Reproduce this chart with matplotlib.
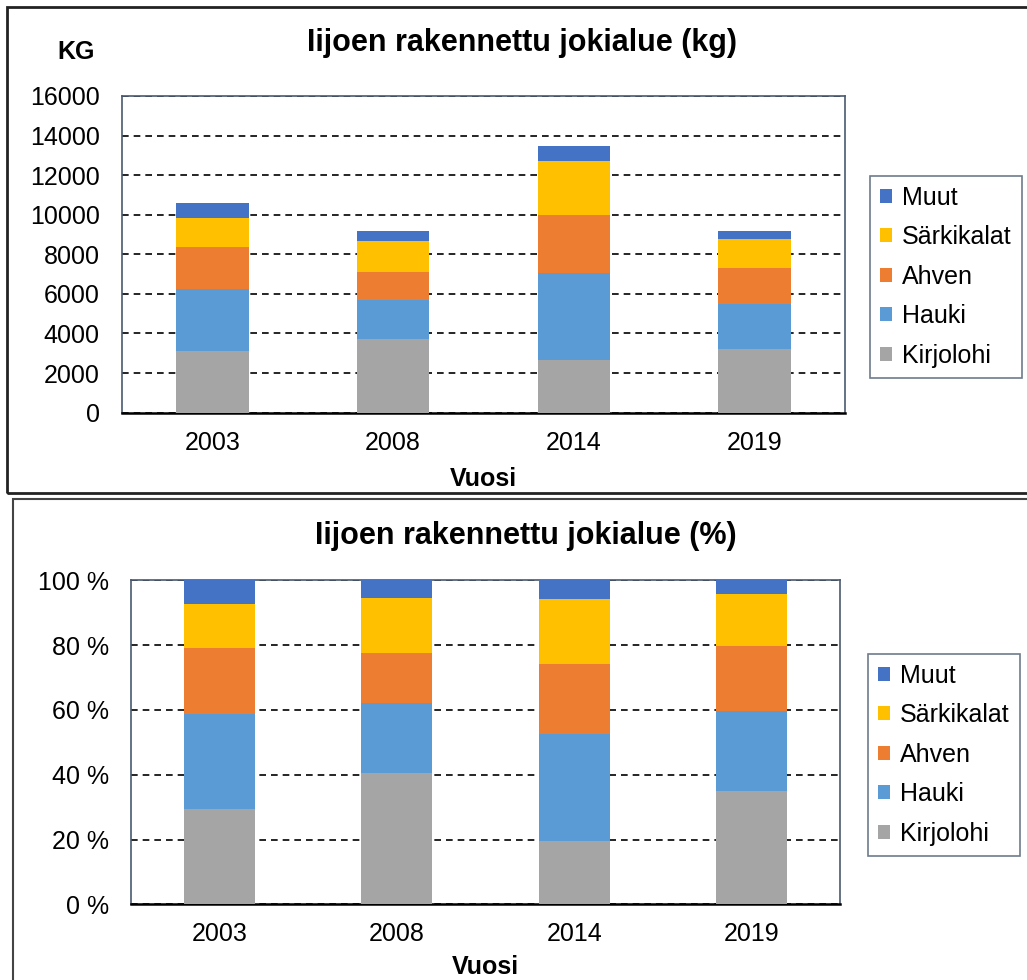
import numpy as np
import matplotlib.pyplot as plt
from matplotlib.patches import Rectangle

plt.rcParams['font.family'] = ['Liberation Sans', 'DejaVu Sans']

# data (kg)
years = ['2003', '2008', '2014', '2019']
species = ['Kirjolohi', 'Hauki', 'Ahven', 'Särkikalat', 'Muut']
kirjolohi = [3130, 3710, 2650, 3220]
hauki = [3100, 2000, 4425, 2260]
ahven = [2150, 1415, 2930, 1850]
sarkikalat = [1450, 1550, 2700, 1450]
muut = [760, 505, 760, 400]
colors = ['#A5A5A5', '#5B9BD5', '#ED7D31', '#FFC000', '#4472C4']

kg = np.array([kirjolohi, hauki, ahven, sarkikalat, muut], dtype=float)
pct = kg / kg.sum(axis=0) * 100

fig = plt.figure(figsize=(10.27, 9.8), dpi=100)

# panel frames
fig.patches.append(Rectangle((7 / 1027, 1 - 493 / 980), 1.1, 486 / 980, transform=fig.transFigure,
                             fill=False, ec='#222222', lw=2))
fig.patches.append(Rectangle((13 / 1027, -0.1), 1.1, 1 - 499 / 980 + 0.1, transform=fig.transFigure,
                             fill=False, ec='#444444', lw=1.5))

ax1 = fig.add_axes([0.1188, 0.5789, 0.704, 0.3232])
ax2 = fig.add_axes([0.1276, 0.0772, 0.6904, 0.3306])

x = np.arange(len(years))


def draw(ax, data, ymax, step, fmt, xpad):
    bottom = np.zeros(len(years))
    for vals, name, col in zip(data, species, colors):
        ax.bar(x, vals, 0.40, bottom=bottom, color=col, label=name, zorder=3)
        bottom += vals
    ax.set_xlim(-0.5, len(years) - 0.5)
    ax.set_ylim(0, ymax)
    ticks = np.arange(0, ymax + 1, step)
    ax.set_yticks(ticks)
    ax.set_yticklabels([fmt(t) for t in ticks], fontsize=18)
    ax.set_xticks(x)
    ax.set_xticklabels(years, fontsize=18)
    ax.tick_params(length=0, pad=16)
    ax.tick_params(axis='x', pad=13)
    ax.yaxis.grid(True, ls=(0, (4, 3)), color='black', lw=1.2, zorder=1)
    for s in ['top', 'right', 'left']:
        ax.spines[s].set_color('#4a5a70')
        ax.spines[s].set_linewidth(1.2)
    ax.spines['bottom'].set_color('black')
    ax.spines['bottom'].set_linewidth(1.8)
    ax.set_xlabel('Vuosi', fontsize=18, fontweight='bold', labelpad=xpad)


draw(ax1, kg, 16000, 2000, lambda t: f'{int(t)}', 9)
draw(ax2, pct, 100, 20, lambda t: f'{int(t)} %', 6)

fig.text(522 / 1027, 1 - 43 / 980, 'Iijoen rakennettu jokialue (kg)', ha='center', va='center',
         fontsize=22, fontweight='bold')
fig.text(526 / 1027, 1 - 536 / 980, 'Iijoen rakennettu jokialue (%)', ha='center', va='center',
         fontsize=22, fontweight='bold')
fig.text(76 / 1027, 1 - 52 / 980, 'KG', ha='center', va='center', fontsize=18, fontweight='bold')

for ax, anchor in [(ax1, (870 / 1027, 1 - 175.7 / 980)), (ax2, (868 / 1027, 1 - 653.7 / 980))]:
    h, l = ax.get_legend_handles_labels()
    leg = fig.legend(h[::-1], l[::-1], loc='upper left', bbox_to_anchor=anchor, fontsize=18,
                     frameon=True, fancybox=False, edgecolor='#4a5a70', handlelength=0.48,
                     handleheight=0.48, handletextpad=0.4, labelspacing=0.62, borderpad=0.4,
                     borderaxespad=0)
    leg.get_frame().set_linewidth(1.2)

fig.savefig('out.png', dpi=100)
